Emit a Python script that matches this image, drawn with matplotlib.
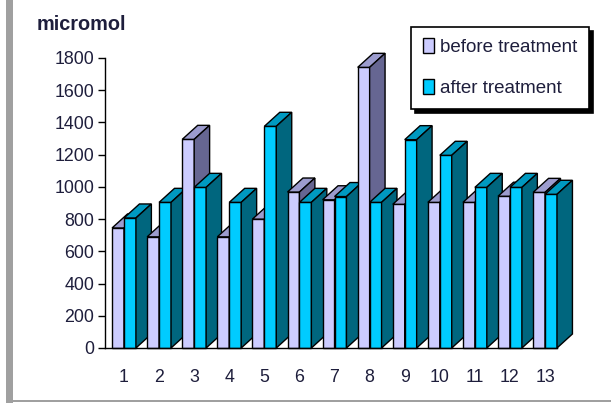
import matplotlib
matplotlib.use("Agg")
import matplotlib.pyplot as plt
from matplotlib.patches import Polygon, Rectangle, Patch

categories = [str(i) for i in range(1, 14)]
before = [745, 690, 1295, 690, 800, 968, 920, 1742, 892, 904, 904, 942, 966]
after = [807, 904, 997, 904, 1376, 904, 940, 904, 1293, 1196, 997, 997, 954]
yticks = [0, 200, 400, 600, 800, 1000, 1200, 1400, 1600, 1800]

W, H = 611, 403
fig = plt.figure(figsize=(W / 100, H / 100), dpi=100)
fig.patch.set_facecolor("white")

# outer gray frame
fig.patches.append(Rectangle((6 / W, 0), 6.7 / W, 1, transform=fig.transFigure,
                             facecolor="#a0a0a0", edgecolor="none"))
fig.patches.append(Rectangle((12.7 / W, 1 / H), 1, 2 / H, transform=fig.transFigure,
                             facecolor="#a0a0a0", edgecolor="none"))

left, right = 105.2, 557.0
top, bottom = 58.0, 348.0
ax = fig.add_axes([left / W, 1 - bottom / H, (right - left) / W, (bottom - top) / H])
ax.set_facecolor("none")

x = list(range(1, len(categories) + 1))
bw = 0.34
dx = 0.44
dy = 87

cols = {
    "before": ("#ccccff", "#9c9cce", "#666692"),
    "after": ("#00ccff", "#0099c0", "#00667e"),
}

z = 2
for i, (b, a) in enumerate(zip(before, after)):
    xi = x[i]
    for x0, h, key in ((xi - bw, b, "before"), (xi, a, "after")):
        front, topc, side = cols[key]
        ax.bar([x0], [h], width=bw, align="edge", color=front,
               edgecolor="black", linewidth=1.0, zorder=z, clip_on=False)
        ax.add_patch(Polygon([(x0, h), (x0 + bw, h), (x0 + bw + dx, h + dy), (x0 + dx, h + dy)],
                             closed=True, facecolor=topc, edgecolor="black", linewidth=1.0,
                             zorder=z + 0.1, clip_on=False))
        ax.add_patch(Polygon([(x0 + bw, 0), (x0 + bw + dx, dy), (x0 + bw + dx, h + dy), (x0 + bw, h)],
                             closed=True, facecolor=side, edgecolor="black", linewidth=1.0,
                             zorder=z + 0.2, clip_on=False))
        z += 1

ax.set_xlim(0.464, 13.34)
ax.set_ylim(0, 1800)
ax.set_yticks(yticks)
ax.set_xticks(x)
ax.set_xticklabels(categories)
for s in ("top", "right"):
    ax.spines[s].set_visible(False)
ax.spines["left"].set_linewidth(1.0)
ax.spines["bottom"].set_linewidth(1.0)
ax.spines["bottom"].set_zorder(100)
tcol = "#1e1e3c"
ax.tick_params(axis="y", direction="out", length=5, width=1, pad=3,
               labelsize=12.8, labelcolor=tcol)
ax.tick_params(axis="x", length=0, pad=15, labelsize=12.8, labelcolor=tcol)
for lab in ax.get_xticklabels() + ax.get_yticklabels():
    lab.set_fontfamily(["Liberation Sans", "DejaVu Sans"])

fig.text(37 / W, 1 - 30 / H, "micromol", fontsize=14.3, fontweight="bold",
         family=["Liberation Sans", "DejaVu Sans"], color="#1e1e3c", va="baseline", ha="left")

handles = [Patch(facecolor=cols["before"][0], edgecolor="black", linewidth=1.0),
           Patch(facecolor=cols["after"][0], edgecolor="black", linewidth=1.0)]
leg = fig.legend(handles, ["before treatment", "after treatment"],
                 loc="upper left", bbox_to_anchor=(411 / W, 1 - 26.7 / H),
                 bbox_transform=fig.transFigure, borderaxespad=0,
                 prop={"family": ["Liberation Sans", "DejaVu Sans"], "size": 13.5},
                 handlelength=0.6, handleheight=0.8, handletextpad=0.35,
                 labelspacing=1.25, borderpad=0.62, fancybox=False,
                 edgecolor="black", framealpha=1,
                 shadow={"color": "black", "alpha": 1, "ox": 3, "oy": -3})
leg.get_frame().set_linewidth(1.2)
for t in leg.get_texts():
    t.set_color(tcol)

fig.savefig("out.png", dpi=100)
